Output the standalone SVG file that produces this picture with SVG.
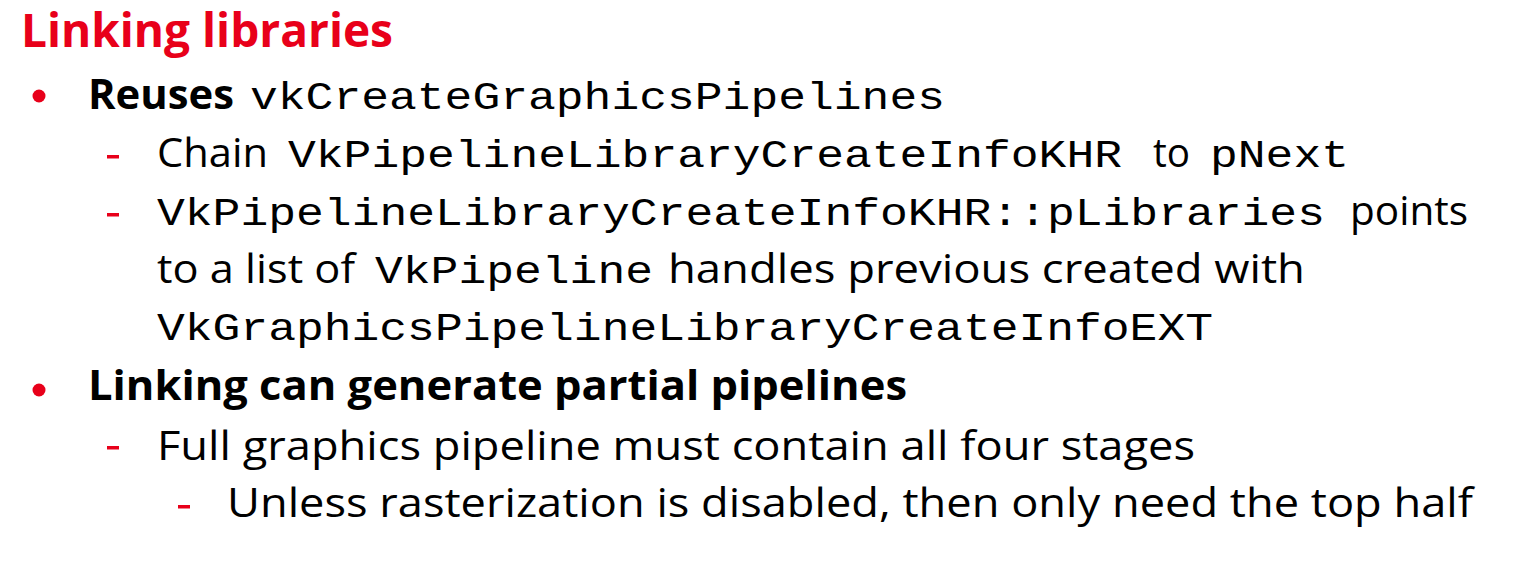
<svg xmlns="http://www.w3.org/2000/svg" width="1519" height="585" viewBox="0 0 1519 585">
<style>
.t{font-family:"Open Sans","Noto Sans",sans-serif;font-size:47px;font-weight:bold;fill:#e8001a}
.s{font-family:"Open Sans","Noto Sans",sans-serif;font-size:41px;fill:#000}
.b{font-family:"Open Sans","Noto Sans",sans-serif;font-size:41px;font-weight:bold;fill:#000}
.m{font-family:"Liberation Mono","DejaVu Sans Mono",monospace;font-size:38px;fill:#000}
.dot{fill:#e8001a}
.dash{fill:#e8001a}
</style>
<rect width="1519" height="585" fill="#ffffff"/>
<g id="title">
<text class="t" x="21" y="47" textLength="372" lengthAdjust="spacingAndGlyphs">Linking libraries</text>
</g>
<g id="bullet1">
<circle class="dot" cx="39" cy="96" r="6.5"/>
<text class="b" x="88" y="109" textLength="146" lengthAdjust="spacingAndGlyphs">Reuses</text>
<text class="m" x="250" y="109" textLength="695" lengthAdjust="spacingAndGlyphs">vkCreateGraphicsPipelines</text>
</g>
<g id="sub1">
<rect class="dash" x="107" y="155" width="12" height="3.5"/>
<text class="s" x="157" y="167" textLength="111" lengthAdjust="spacingAndGlyphs">Chain</text>
<text class="m" x="288" y="167" textLength="834" lengthAdjust="spacingAndGlyphs">VkPipelineLibraryCreateInfoKHR</text>
<text class="s" x="1153" y="167" textLength="37" lengthAdjust="spacingAndGlyphs">to</text>
<text class="m" x="1210" y="167" textLength="139" lengthAdjust="spacingAndGlyphs">pNext</text>
</g>
<g id="sub2">
<rect class="dash" x="107" y="213" width="12" height="3.5"/>
<text class="m" x="157" y="225" textLength="1168" lengthAdjust="spacingAndGlyphs">VkPipelineLibraryCreateInfoKHR::pLibraries</text>
<text class="s" x="1350" y="225" textLength="118" lengthAdjust="spacingAndGlyphs">points</text>
<text class="s" x="157" y="283" textLength="198" lengthAdjust="spacingAndGlyphs">to a list of</text>
<text class="m" x="375" y="283" textLength="278" lengthAdjust="spacingAndGlyphs">VkPipeline</text>
<text class="s" x="668" y="283" textLength="637" lengthAdjust="spacingAndGlyphs">handles previous created with</text>
<text class="m" x="157" y="340" textLength="1056" lengthAdjust="spacingAndGlyphs">VkGraphicsPipelineLibraryCreateInfoEXT</text>
</g>
<g id="bullet2">
<circle class="dot" cx="39" cy="390" r="6.5"/>
<text class="b" x="88" y="400" textLength="819" lengthAdjust="spacingAndGlyphs">Linking can generate partial pipelines</text>
</g>
<g id="sub3">
<rect class="dash" x="107" y="446" width="12" height="3.5"/>
<text class="s" x="157" y="460" textLength="1038" lengthAdjust="spacingAndGlyphs">Full graphics pipeline must contain all four stages</text>
</g>
<g id="sub4">
<rect class="dash" x="178" y="505" width="12" height="3.5"/>
<text class="s" x="227" y="517" textLength="1246" lengthAdjust="spacingAndGlyphs">Unless rasterization is disabled, then only need the top half</text>
</g>
</svg>
